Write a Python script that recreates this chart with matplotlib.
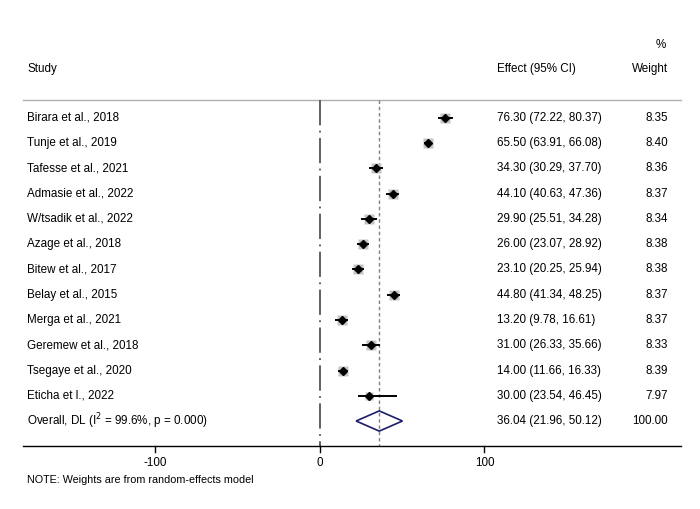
import matplotlib.pyplot as plt
from matplotlib.patches import Polygon

plt.rcParams['font.family'] = ['Liberation Sans', 'DejaVu Sans']

# datos
studies = ['Birara et al., 2018', 'Tunje et al., 2019', 'Tafesse et al., 2021',
           'Admasie et al., 2022', "W/tsadik et al., 2022", 'Azage et al., 2018',
           'Bitew et al., 2017', 'Belay et al., 2015', 'Merga et al., 2021',
           'Geremew et al., 2018', 'Tsegaye et al., 2020', 'Eticha et l., 2022']
es = [76.30, 65.50, 34.30, 44.10, 29.90, 26.00, 23.10, 44.80, 13.20, 31.00, 14.00, 30.00]
lo = [72.22, 63.91, 30.29, 40.63, 25.51, 23.07, 20.25, 41.34, 9.78, 26.33, 11.66, 23.54]
hi = [80.37, 66.08, 37.70, 47.36, 34.28, 28.92, 25.94, 48.25, 16.61, 35.66, 16.33, 46.45]
weights = [8.35, 8.40, 8.36, 8.37, 8.34, 8.38, 8.38, 8.37, 8.37, 8.33, 8.39, 7.97]

overall_es = 36.04
overall_lo = 21.96
overall_hi = 50.12
overall_label = 'Overall, DL (I$^{2}$ = 99.6%, p = 0.000)'
xticks = [-100, 0, 100]

fig = plt.figure(figsize=(7, 5.09), dpi=100)
ax = fig.add_axes([0, 0, 1, 1])
ax.set_xlim(-194.5, 231.0)
ax.set_ylim(15.485, -4.673)
ax.axis('off')

fs = 8.4
x_left = -178
x_eff = 107.6
x_w = 211.5
x_line0, x_line1 = -180.5, 219.5
n = len(studies)

# cabecera
ax.text(x_left, -1.94, 'Study', fontsize=fs, va='center')
ax.text(x_eff, -1.94, 'Effect (95% CI)', fontsize=fs, va='center')
ax.text(x_w, -1.94, 'Weight', fontsize=fs, va='center', ha='right')
ax.text(x_w - 1.5, -2.89, '%', fontsize=fs, va='center', ha='right')
ax.plot([x_line0, x_line1], [-0.713, -0.713], color='#b0b0b0', lw=1)

# lineas de referencia
ax.plot([0, 0], [-0.713, n + 1 - 0.01], color='#555555', lw=1.3,
        dashes=(14, 3, 1, 3))
ax.plot([overall_es, overall_es], [-0.713, n + 1 - 0.01], color='#8a7d7d', lw=1,
        dashes=(2.5, 2))

# estudios
for i in range(n):
    ax.plot([lo[i], hi[i]], [i, i], color='black', lw=1.4, zorder=3)
    ax.plot(es[i], i, marker='s', ms=weights[i] * 0.8, color='#c4c4c4',
            mec='none', zorder=2)
    ax.plot(es[i], i, marker='D', ms=4.3, color='black', zorder=4)
    ax.text(x_left, i, studies[i], fontsize=fs, va='center')
    ax.text(x_eff, i, '%.2f (%.2f, %.2f)' % (es[i], lo[i], hi[i]),
            fontsize=fs, va='center')
    ax.text(x_w, i, '%.2f' % weights[i], fontsize=fs, va='center', ha='right')

# resumen
yo = n
diamond = Polygon([[overall_lo, yo], [overall_es, yo - 0.4], [overall_hi, yo],
                   [overall_es, yo + 0.4]], closed=True, fill=False,
                  edgecolor='#1c1c6b', lw=1.2, zorder=4)
ax.add_patch(diamond)
ax.text(x_left, yo, overall_label, fontsize=fs, va='center')
ax.text(x_eff, yo, '%.2f (%.2f, %.2f)' % (overall_es, overall_lo, overall_hi),
        fontsize=fs, va='center')
ax.text(x_w, yo, '100.00', fontsize=fs, va='center', ha='right')

# eje x
ya = n + 1
ax.plot([x_line0, x_line1], [ya, ya], color='black', lw=1)
for t in xticks:
    ax.plot([t, t], [ya, ya + 0.22], color='black', lw=1)
    ax.text(t, ya + 0.68, str(t), fontsize=fs, ha='center', va='center')

ax.text(x_left, 14.34, 'NOTE: Weights are from random-effects model',
        fontsize=fs * 0.92, va='center')

fig.savefig('out.png', dpi=100)
